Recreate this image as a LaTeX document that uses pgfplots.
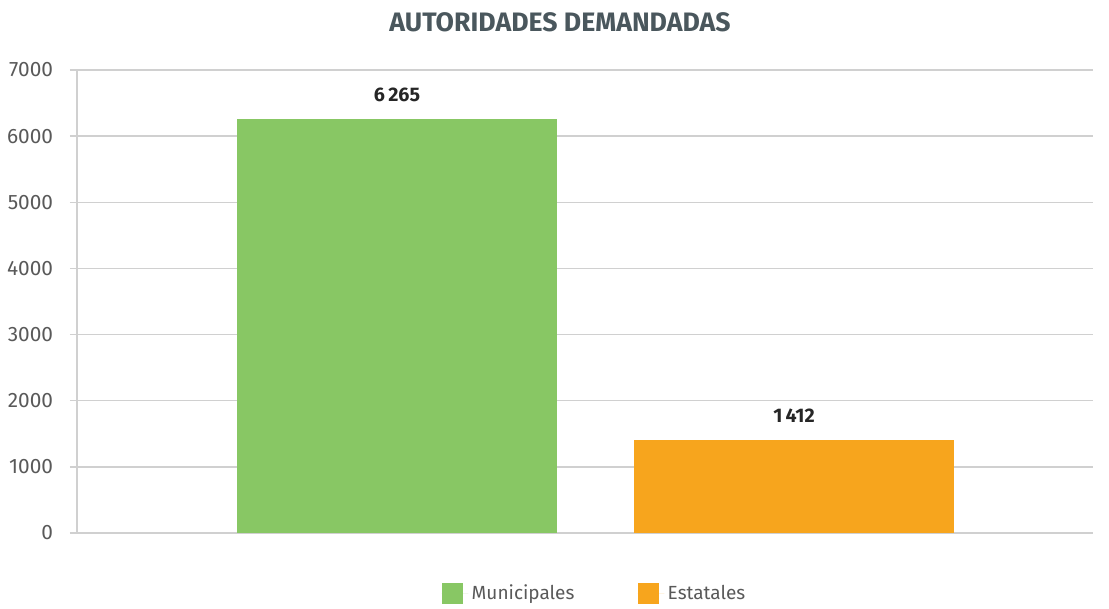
\documentclass[border=0pt]{standalone}
\usepackage{pgfplots}
\pgfplotsset{compat=1.18}
\usepackage{fontspec}
\setmainfont{Fira Sans}
\definecolor{municolor}{HTML}{88C764}
\definecolor{estcolor}{HTML}{F7A51D}
\definecolor{titlecolor}{HTML}{4A575D}
\definecolor{gridcolor}{HTML}{D0D0D0}
\definecolor{tickcolor}{HTML}{595959}
\begin{document}
\begin{tikzpicture}
\begin{axis}[
    at={(0,0)}, anchor=south west,
    scale only axis,
    width=609.6pt, height=277.8pt,
    ybar, bar width=192pt, bar shift=0pt,
    xmin=-0.806, xmax=1.753,
    ymin=0, ymax=7000,
    ytick={0,1000,...,7000},
    xtick=\empty,
    /pgf/number format/assume math mode=true,
    /pgf/number format/1000 sep={},
    yticklabel style={font=\fontsize{12.5}{14}\selectfont, text=tickcolor, xshift=-6.6pt},
    ymajorgrids,
    grid style={gridcolor, line width=0.8pt},
    axis line style={gridcolor, line width=0.8pt},
    axis x line*=bottom,
    axis y line*=left,
    y axis line style={-},
    x axis line style={-},
    major tick length=4.2pt,
    tick style={gridcolor, line width=0.8pt},
    ytick pos=left,
    tick align=outside,
    clip=false,
    nodes near coords={\pgfmathprintnumber[1000 sep={\,}]{\pgfplotspointmeta}},
    nodes near coords style={font=\bfseries\fontsize{11.8}{14}\selectfont, text=black!85, anchor=center, yshift=14.4pt},
    legend columns=2,
    legend style={at={(0.51,-0.13)}, anchor=center, draw=none, fill=none,
        font=\fontsize{11.4}{13}\selectfont, text=tickcolor,
        /tikz/every even column/.append style={column sep=36pt}},
    legend image code/.code={\fill[#1] (0pt,-6.3pt) rectangle (12.6pt,6.3pt); \path (0pt,0pt) -- (16pt,0pt);},
]
\addplot[fill=municolor, draw=none] coordinates {(0,6265)};
\addlegendentry{Municipales}
\addplot[fill=estcolor, draw=none] coordinates {(1,1412)};
\addlegendentry{Estatales}
\end{axis}
\node[font=\bfseries\fontsize{16}{19}\selectfont, text=titlecolor] at (289.8pt,306.6pt) {AUTORIDADES DEMANDADAS};
\path[use as bounding box] (-46.2pt,-43.2pt) rectangle (619.2pt,319.8pt);
\end{tikzpicture}
\end{document}
